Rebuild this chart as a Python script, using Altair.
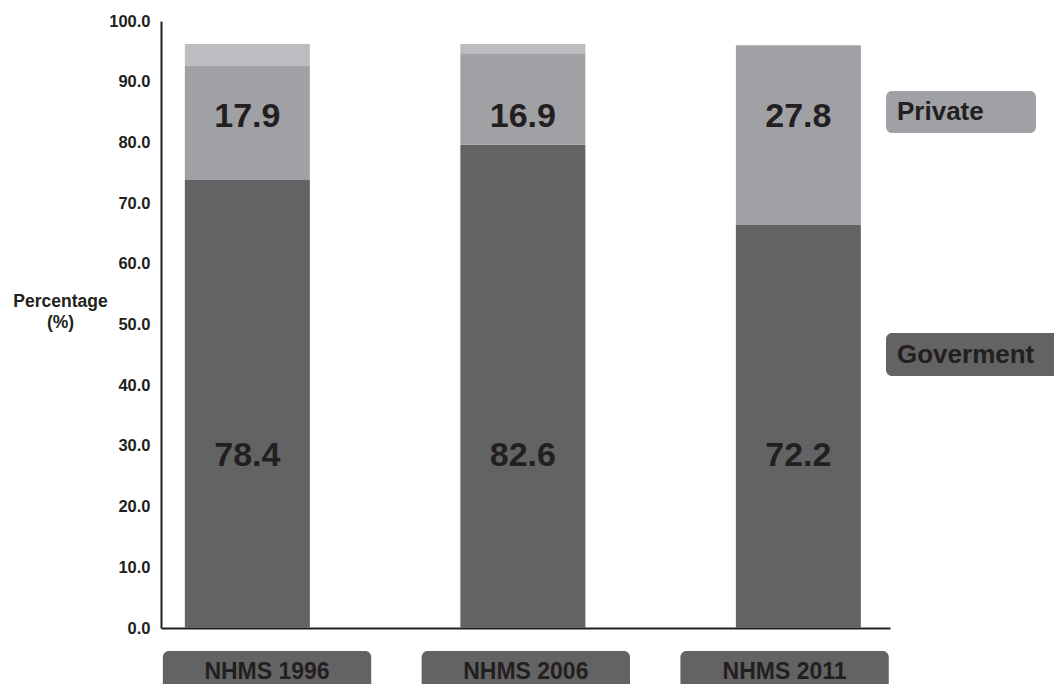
import altair as alt
import pandas as pd

# ---- data ----
surveys = ["NHMS 1996", "NHMS 2006", "NHMS 2011"]
gov_height = [73.8, 79.6, 66.4]        # drawn height of government segment
private_height = [18.8, 15.1, 29.6]    # drawn height of private segment
other_height = [3.6, 1.5, 0.0]         # thin light-grey top segment
gov_label = [78.4, 82.6, 72.2]
private_label = [17.9, 16.9, 27.8]
y_ticks = [0, 10, 20, 30, 40, 50, 60, 70, 80, 90, 100]
segments = ["Goverment", "Private", "Other"]
segment_colors = ["#636365", "#a0a1a5", "#bcbdc1"]

FONT = "Liberation Sans"
TXT = "#231f20"
W, H = 729, 607

rows = []
for i, s in enumerate(surveys):
    for k, (seg, vals) in enumerate(zip(segments, [gov_height, private_height, other_height])):
        rows.append({"survey": s, "segment": seg, "value": vals[i], "order": k})
bars_df = pd.DataFrame(rows)
labels_df = pd.DataFrame({"survey": surveys, "gov": gov_label, "private": private_label})

x_scale = alt.Scale(paddingInner=0.546, paddingOuter=0.096, align=0.45)
x_bar = alt.X("survey:N", sort=surveys, scale=x_scale,
              axis=alt.Axis(labels=False, ticks=False, title=None, domain=True,
                            domainColor=TXT, domainWidth=2))

y_axis = alt.Axis(values=y_ticks, format=".1f", labelFont=FONT, labelFontSize=16.5,
                  labelFontWeight="bold", labelColor=TXT, labelPadding=11,
                  ticks=False, grid=False, domainColor=TXT, domainWidth=2,
                  title=["Percentage", "(%)"], titleFont=FONT, titleFontSize=17.5,
                  titleFontWeight="bold", titleColor=TXT, titleAngle=0,
                  titleAlign="center", titleBaseline="middle", titleLineHeight=21,
                  titleX=-101, titleY=280)

bars = alt.Chart(bars_df).mark_bar(size=125).encode(
    x=x_bar,
    y=alt.Y("value:Q", stack="zero", scale=alt.Scale(domain=[0, 100], nice=False), axis=y_axis),
    color=alt.Color("segment:N", scale=alt.Scale(domain=segments, range=segment_colors), legend=None),
    order=alt.Order("order:Q"),
)

base_lab = alt.Chart(labels_df).mark_text(font=FONT, fontSize=34, fontWeight="bold",
                                          color=TXT, baseline="middle", align="center")
priv_txt = base_lab.encode(x=alt.X("survey:N", sort=surveys), y=alt.datum(84.2),
                           text=alt.Text("private:Q", format=".1f"))
gov_txt = base_lab.encode(x=alt.X("survey:N", sort=surveys), y=alt.datum(28.3),
                          text=alt.Text("gov:Q", format=".1f"))

bar_layer = alt.layer(bars, priv_txt, gov_txt)

# category boxes under the axis
x_box = alt.X("survey:N", sort=surveys,
              scale=alt.Scale(paddingInner=0.195, paddingOuter=0.006, align=0.6), axis=None)
cat_df = pd.DataFrame({"survey": surveys})
cat_box = alt.Chart(cat_df).mark_rect(color="#636365", cornerRadius=6).encode(
    x=x_box, y=alt.value(630), y2=alt.value(690))
cat_txt = alt.Chart(cat_df).mark_text(font=FONT, fontSize=23, fontWeight="bold", color=TXT,
                                      baseline="middle", align="center").encode(
    x=x_box, y=alt.value(651), text="survey:N")
cat_layer = alt.layer(cat_box, cat_txt)

# legend-like label boxes on the right
leg_df = pd.DataFrame({"label": ["Private"]})
leg_df2 = pd.DataFrame({"label": ["Goverment"]})
leg1_box = alt.Chart(leg_df).mark_rect(color=segment_colors[1], cornerRadius=6).encode(
    x=alt.value(725), x2=alt.value(875), y=alt.value(70), y2=alt.value(112))
leg1_txt = alt.Chart(leg_df).mark_text(font=FONT, fontSize=26, fontWeight="bold", color=TXT,
                                       align="left", baseline="middle").encode(
    x=alt.value(736), y=alt.value(91), text="label:N")
leg2_box = alt.Chart(leg_df2).mark_rect(color=segment_colors[0], cornerRadius=6).encode(
    x=alt.value(725), x2=alt.value(930), y=alt.value(312), y2=alt.value(355))
leg2_txt = alt.Chart(leg_df2).mark_text(font=FONT, fontSize=26, fontWeight="bold", color=TXT,
                                        align="left", baseline="middle").encode(
    x=alt.value(736), y=alt.value(334), text="label:N")

chart = alt.layer(bar_layer, cat_layer, leg1_box, leg1_txt, leg2_box, leg2_txt).resolve_scale(
    x="independent"
).properties(
    width=W, height=H,
    autosize=alt.AutoSizeParams(type="none"),
    padding={"left": 153, "top": 13, "right": 164, "bottom": 56},
).configure(background="white", view=alt.ViewConfig(stroke=None))

chart.save("out.html", embed_options={"renderer": "svg", "actions": False})
